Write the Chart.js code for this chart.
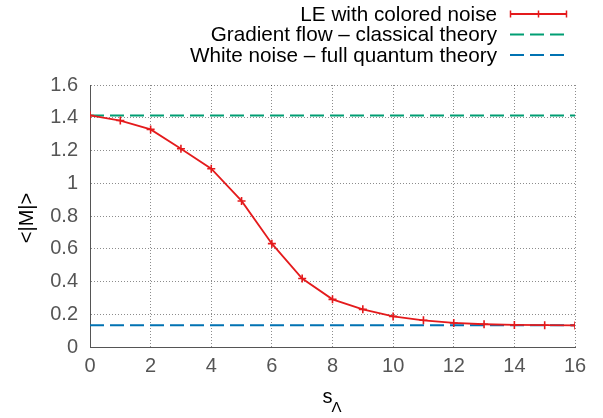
<!DOCTYPE html>
<html>
<head>
<meta charset="utf-8">
<script src="https://cdn.jsdelivr.net/npm/chart.js@4"></script>
<style>
  html, body { margin: 0; padding: 0; background: #fff; }
  #wrap { position: relative; width: 603px; height: 418px; }
</style>
</head>
<body>
<div id="wrap"><canvas id="chart"></canvas></div>
<script>
// values
const sLambda = [0, 1, 2, 3, 4, 5, 6, 7, 8, 9, 10, 11, 12, 13, 14, 15, 16];
const leColoredNoise = [1.414, 1.383, 1.329, 1.211, 1.089, 0.892, 0.631, 0.418, 0.291, 0.230, 0.187, 0.163, 0.147, 0.139, 0.135, 0.133, 0.132];
const gradientFlowLevel = 1.414;
const whiteNoiseLevel = 0.133;
const seriesNames = ['LE with colored noise', 'Gradient flow \u2013 classical theory', 'White noise \u2013 full quantum theory'];
const yTicks = [0, 0.2, 0.4, 0.6, 0.8, 1, 1.2, 1.4, 1.6];
const xTicks = [0, 2, 4, 6, 8, 10, 12, 14, 16];

const RED = '#e41a1c';
const GREEN = '#009e73';
const BLUE = '#0072b2';
const FONT = '"Liberation Sans", Arial, sans-serif';

const xMin = sLambda[0], xMax = sLambda[sLambda.length - 1];

// legend + axis titles drawn by hand (gnuplot-like layout)
const decorations = {
  id: 'decorations',
  afterDraw(chart) {
    const ctx = chart.ctx;
    const area = chart.chartArea;
    ctx.save();
    ctx.font = '20.7px ' + FONT;
    ctx.fillStyle = '#000';
    ctx.textAlign = 'right';
    ctx.textBaseline = 'middle';
    const rows = [14, 34.5, 55];
    const textRight = 497, x0 = 510, x1 = 567;
    chart.data.datasets.forEach((ds, i) => {
      const y = rows[i];
      ctx.fillText(ds.label, textRight, y + 1);
      ctx.strokeStyle = ds.borderColor;
      ctx.lineWidth = 2;
      ctx.setLineDash(ds.borderDash || []);
      ctx.beginPath();
      ctx.moveTo(x0, y);
      ctx.lineTo(x1, y);
      ctx.stroke();
      ctx.setLineDash([]);
      if (i === 0) {
        ctx.lineWidth = 1.5;
        ctx.beginPath();
        [x0 + 0.5, x1 - 0.5].forEach(x => { ctx.moveTo(x, y - 3.5); ctx.lineTo(x, y + 3.5); });
        const xm = (x0 + x1) / 2;
        ctx.moveTo(xm, y - 3.5); ctx.lineTo(xm, y + 3.5);
        ctx.stroke();
      }
    });

    // y axis title
    ctx.save();
    ctx.translate(27, 218);
    ctx.rotate(-Math.PI / 2);
    ctx.textAlign = 'center';
    ctx.font = '20px ' + FONT;
    ctx.fillText('<|M|>', 0, 0);
    ctx.restore();

    // x axis title: s with subscript Lambda
    const cx = (area.left + area.right) / 2;
    ctx.textAlign = 'left';
    ctx.textBaseline = 'alphabetic';
    ctx.font = '20px ' + FONT;
    const sw = ctx.measureText('s').width;
    ctx.fillText('s', cx - 10, 403);
    ctx.font = '15px ' + FONT;
    ctx.fillText('\u039b', cx - 10 + sw - 1, 412);
    ctx.restore();
  }
};

new Chart(document.getElementById('chart'), {
  type: 'line',
  data: {
    datasets: [
      {
        label: seriesNames[0],
        data: sLambda.map((s, i) => ({ x: s, y: leColoredNoise[i] })),
        borderColor: RED,
        backgroundColor: RED,
        borderWidth: 1.8,
        pointStyle: 'cross',
        pointRadius: 4,
        pointBorderWidth: 1.6,
        pointBorderColor: RED,
        tension: 0,
        fill: false
      },
      {
        label: seriesNames[1],
        data: [{ x: xMin, y: gradientFlowLevel }, { x: xMax, y: gradientFlowLevel }],
        borderColor: GREEN,
        borderWidth: 2,
        borderDash: [14, 6],
        pointRadius: 0,
        fill: false
      },
      {
        label: seriesNames[2],
        data: [{ x: xMin, y: whiteNoiseLevel }, { x: xMax, y: whiteNoiseLevel }],
        borderColor: BLUE,
        borderWidth: 2,
        borderDash: [14, 6],
        pointRadius: 0,
        fill: false
      }
    ]
  },
  options: {
    responsive: true,
    maintainAspectRatio: false,
    animation: false,
    layout: { padding: { top: 85, right: 28, left: 0, bottom: 0 } },
    plugins: {
      legend: { display: false },
      tooltip: { enabled: false }
    },
    scales: {
      x: {
        type: 'linear',
        min: xMin,
        max: xMax,
        afterBuildTicks: scale => { scale.ticks = xTicks.map(v => ({ value: v })); },
        ticks: { color: '#555', font: { family: FONT, size: 20 }, padding: 7, maxRotation: 0 },
        grid: { color: 'rgba(0,0,0,0.45)', lineWidth: 1, tickLength: 0, drawOnChartArea: true },
        border: { display: true, color: '#555', width: 1, dash: [1, 2] },
        afterFit: scale => { scale.height = 418 - 347; }
      },
      y: {
        min: 0,
        max: 1.6,
        afterBuildTicks: scale => { scale.ticks = yTicks.map(v => ({ value: v })); },
        ticks: { color: '#555', font: { family: FONT, size: 20 }, padding: 12, callback: v => String(v) },
        grid: { color: 'rgba(0,0,0,0.45)', lineWidth: 1, tickLength: 0 },
        border: { display: true, color: '#555', width: 1, dash: [1, 2] },
        afterFit: scale => { scale.width = 90; }
      }
    }
  },
  plugins: [decorations]
});
</script>
</body>
</html>
